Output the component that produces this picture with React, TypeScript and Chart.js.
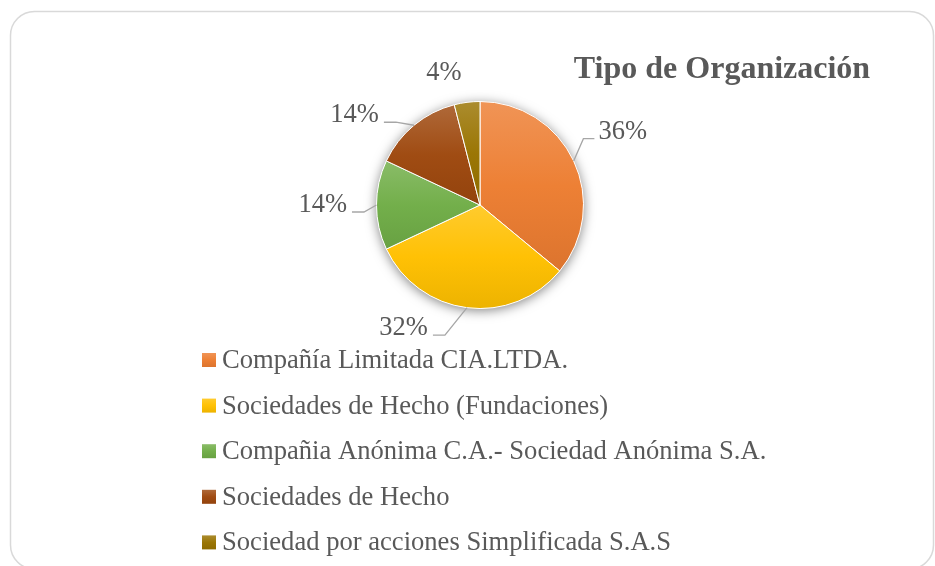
import React, { useEffect, useRef } from "react";
import { Chart, registerables } from "chart.js";

Chart.register(...registerables);

const TITLE = "Tipo de Organización";
const CATEGORIES = [
  "Compañía Limitada CIA.LTDA.",
  "Sociedades de Hecho (Fundaciones)",
  "Compañia Anónima C.A.- Sociedad Anónima S.A.",
  "Sociedades de Hecho",
  "Sociedad por acciones Simplificada S.A.S",
];
const VALUES = [36, 32, 14, 14, 4];
const COLORS = ["#ED7D31", "#FFC000", "#70AD47", "#9E480E", "#997300"];

// label placement relative to each slice: angle offset (deg) from the slice mid-angle,
// distance in pie radii, and whether a leader line is drawn
const LABEL_PLACEMENT = [
  { dAngle: -2, dist: 1.55, leader: true },
  { dAngle: 24.6, dist: 1.4, leader: true },
  { dAngle: 0, dist: 1.52, leader: true },
  { dAngle: -14.8, dist: 1.49, leader: true },
  { dAngle: -8.1, dist: 1.32, leader: false },
];

const FONT = '"Liberation Serif", "Times New Roman", serif';
const TEXT_COLOR = "#595959";

function hexToRgb(hex: string) {
  const h = hex.replace("#", "");
  return [parseInt(h.slice(0, 2), 16), parseInt(h.slice(2, 4), 16), parseInt(h.slice(4, 6), 16)];
}
function mix(hex: string, target: number, t: number) {
  const [r, g, b] = hexToRgb(hex);
  const f = (c: number) => Math.round(c + (target - c) * t);
  return `rgb(${f(r)},${f(g)},${f(b)})`;
}
function fillGradient(ctx: CanvasRenderingContext2D, color: string, y0: number, y1: number) {
  const g = ctx.createLinearGradient(0, y0, 0, y1);
  g.addColorStop(0, mix(color, 255, 0.18));
  g.addColorStop(0.5, mix(color, 255, 0.02));
  g.addColorStop(1, mix(color, 0, 0.07));
  return g;
}

const decorPlugin = {
  id: "decor",
  beforeDraw(chart: any) {
    const ctx = chart.ctx as CanvasRenderingContext2D;
    ctx.save();
    ctx.fillStyle = "#ffffff";
    ctx.fillRect(0, 0, chart.width, chart.height);
    // rounded border
    const x0 = 10.5, y0 = 11.5, x1 = 933.5, y1 = 569, rad = 24;
    ctx.beginPath();
    ctx.moveTo(x0 + rad, y0);
    ctx.lineTo(x1 - rad, y0);
    ctx.arcTo(x1, y0, x1, y0 + rad, rad);
    ctx.lineTo(x1, y1 - rad);
    ctx.arcTo(x1, y1, x1 - rad, y1, rad);
    ctx.lineTo(x0 + rad, y1);
    ctx.arcTo(x0, y1, x0, y1 - rad, rad);
    ctx.lineTo(x0, y0 + rad);
    ctx.arcTo(x0, y0, x0 + rad, y0, rad);
    ctx.closePath();
    ctx.strokeStyle = "#D9D9D9";
    ctx.lineWidth = 1.5;
    ctx.stroke();
    ctx.restore();
  },
  beforeDatasetsDraw(chart: any) {
    const ctx = chart.ctx as CanvasRenderingContext2D;
    const meta = chart.getDatasetMeta(0);
    const arcs = meta.data;
    if (!arcs.length) return;
    const cx = arcs[0].x, cy = arcs[0].y, r = arcs[0].outerRadius;
    // soft shadow behind the pie
    ctx.save();
    ctx.shadowColor = "rgba(0,0,0,0.5)";
    ctx.shadowBlur = 12;
    ctx.shadowOffsetY = 2;
    ctx.beginPath();
    ctx.arc(cx, cy, r, 0, Math.PI * 2);
    ctx.fillStyle = "#ffffff";
    ctx.fill();
    ctx.restore();
    // per-slice vertical gradient
    arcs.forEach((arc: any, i: number) => {
      let ymin = cy, ymax = cy;
      const steps = 40;
      for (let s = 0; s <= steps; s++) {
        const a = arc.startAngle + ((arc.endAngle - arc.startAngle) * s) / steps;
        const y = cy + r * Math.sin(a);
        ymin = Math.min(ymin, y);
        ymax = Math.max(ymax, y);
      }
      const grad = fillGradient(ctx, COLORS[i], ymin, ymax);
      arc.options = { ...arc.options, backgroundColor: grad };
    });
  },
  afterDraw(chart: any) {
    const ctx = chart.ctx as CanvasRenderingContext2D;
    const meta = chart.getDatasetMeta(0);
    const arcs = meta.data;
    const total = VALUES.reduce((a, b) => a + b, 0);
    ctx.save();
    // title
    ctx.font = `bold 32px ${FONT}`;
    ctx.fillStyle = TEXT_COLOR;
    ctx.textAlign = "center";
    ctx.textBaseline = "alphabetic";
    ctx.fillText(TITLE, 722, 78);

    // data labels with leader lines
    ctx.font = `26.5px ${FONT}`;
    arcs.forEach((arc: any, i: number) => {
      const cx = arc.x, cy = arc.y, r = arc.outerRadius;
      const mid = (arc.startAngle + arc.endAngle) / 2;
      const p = LABEL_PLACEMENT[i];
      const la = mid + (p.dAngle * Math.PI) / 180;
      const tx = cx + Math.cos(la) * r * p.dist;
      const ty = cy + Math.sin(la) * r * p.dist;
      const text = Math.round((VALUES[i] / total) * 100) + "%";
      const w = ctx.measureText(text).width;
      ctx.fillStyle = TEXT_COLOR;
      ctx.textAlign = "center";
      ctx.textBaseline = "middle";
      ctx.fillText(text, tx, ty);
      if (p.leader) {
        const sx = cx + Math.cos(mid) * r;
        const sy = cy + Math.sin(mid) * r;
        const left = tx < cx;
        const endX = left ? tx + w / 2 + 5 : tx - w / 2 - 4;
        const lineY = ty + 7;
        const elbowX = left ? endX + 12 : endX - 11;
        ctx.beginPath();
        ctx.moveTo(sx, sy);
        ctx.lineTo(elbowX, lineY);
        ctx.lineTo(endX, lineY);
        ctx.strokeStyle = "#A6A6A6";
        ctx.lineWidth = 1.3;
        ctx.stroke();
      }
    });

    // legend
    ctx.font = `26.6px ${FONT}`;
    ctx.textAlign = "left";
    ctx.textBaseline = "alphabetic";
    CATEGORIES.forEach((cat, i) => {
      const base = 368 + i * 45.6;
      const sq = 14;
      const sy = base - 15;
      ctx.fillStyle = fillGradient(ctx, COLORS[i], sy, sy + sq);
      ctx.fillRect(202, sy, sq, sq);
      ctx.fillStyle = TEXT_COLOR;
      ctx.fillText(cat, 222, base);
    });
    ctx.restore();
  },
};

export default function App() {
  const canvasRef = useRef<HTMLCanvasElement | null>(null);
  useEffect(() => {
    if (!canvasRef.current) return;
    const chart = new Chart(canvasRef.current, {
      type: "pie",
      data: {
        labels: CATEGORIES,
        datasets: [
          {
            data: VALUES,
            backgroundColor: COLORS,
            borderColor: "#ffffff",
            borderWidth: 1,
          },
        ],
      },
      options: {
        responsive: false,
        devicePixelRatio: 1,
        animation: false,
        events: [],
        layout: { padding: { left: 376, right: 351, top: 101, bottom: 257 } },
        plugins: {
          legend: { display: false },
          title: { display: false },
          tooltip: { enabled: false },
        },
      },
      plugins: [decorPlugin],
    });
    return () => chart.destroy();
  }, []);
  return (
    <div style={{ position: "fixed", left: 0, top: 0, width: 935, height: 566 }}>
      <canvas ref={canvasRef} width={935} height={566} style={{ display: "block" }} />
    </div>
  );
}
